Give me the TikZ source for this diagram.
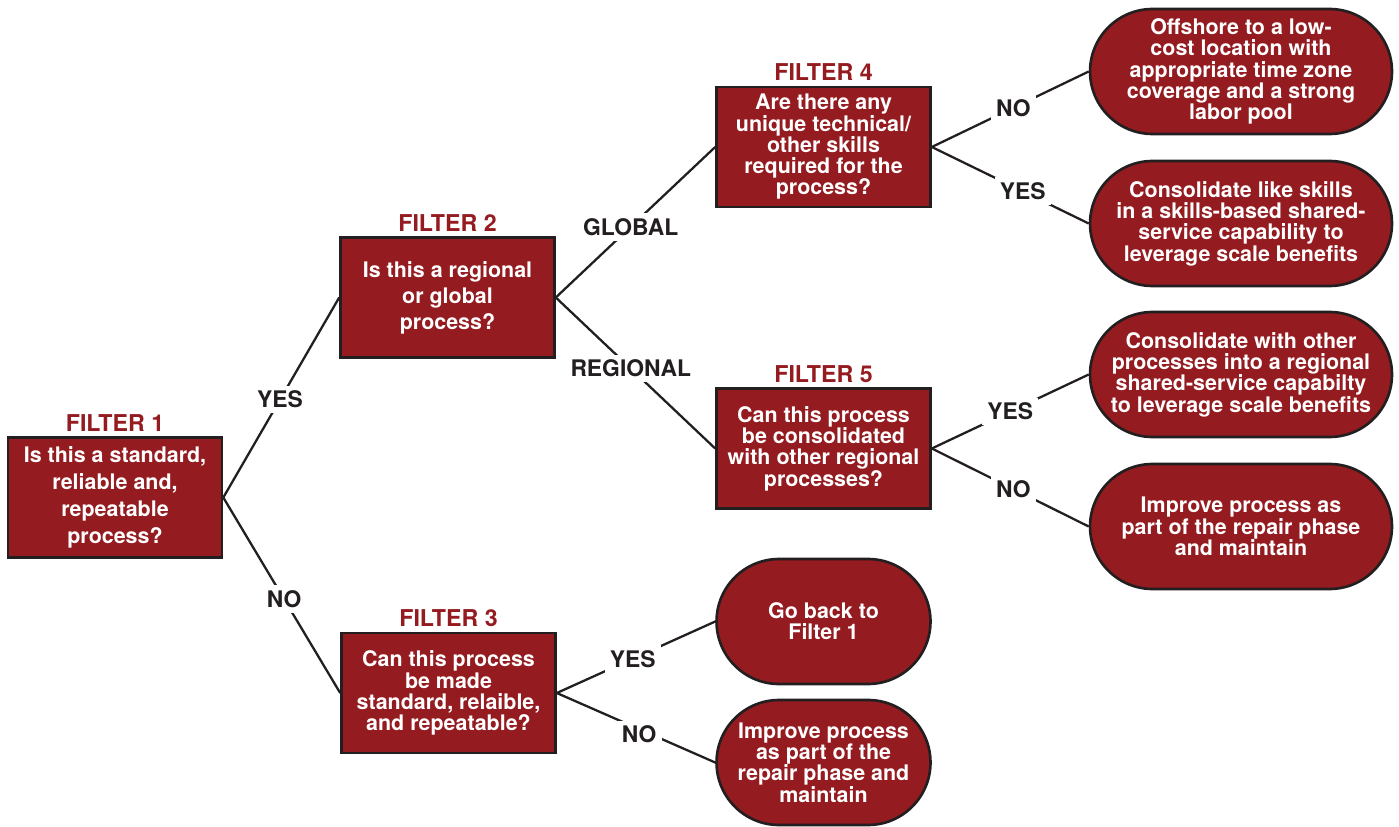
\documentclass[tikz,border=0pt]{standalone}
\usepackage{fontspec}
\setmainfont{TeX Gyre Heros}
\usetikzlibrary{positioning}
\definecolor{filterred}{RGB}{148,27,32}
\definecolor{inkgray}{RGB}{35,31,32}

\begin{document}
\begin{tikzpicture}[x=0.02cm,y=-0.02cm,
  box/.style={draw=inkgray,line width=1.5pt,fill=filterred,text=white,align=center,
    font=\fontsize{12.2}{12.1}\selectfont\bfseries,inner sep=0pt,minimum width=4.28cm,minimum height=2.4cm},
  endbox/.style={box,rounded corners=1.25cm,minimum width=6.04cm,minimum height=2.5cm},
  flabel/.style={text=filterred,font=\fontsize{13.2}{13}\selectfont\bfseries,inner sep=1pt},
  conn/.style={draw=inkgray,line width=1.3pt},
  ans/.style={fill=white,text=inkgray,font=\fontsize{13}{13}\selectfont\bfseries,inner sep=3pt}]
\useasboundingbox (0,0) rectangle (1399,827);
% filters
\node[box,font=\fontsize{12.2}{15.3}\selectfont\bfseries] (f1) at (115,497.5) {Is this a standard,\\ reliable and,\\ repeatable\\ process?};
\node[box,font=\fontsize{12.2}{14.8}\selectfont\bfseries] (f2) at (447.5,297.5) {Is this a regional\\ or global\\ process?};
\node[box] (f3) at (448.5,693) {Can this process\\ be made\\ standard, relaible,\\ and repeatable?};
\node[box] (f4) at (823.5,147) {Are there any\\ unique technical/\\ other skills\\ required for the\\ process?};
\node[box] (f5) at (823.5,448.5) {Can this process\\ be consolidated\\ with other regional\\ processes?};
\node[flabel,above=1.5pt of f1] {FILTER 1};
\node[flabel,above=1.5pt of f2] {FILTER 2};
\node[flabel,above=1.5pt of f3] {FILTER 3};
\node[flabel,above=1.5pt of f4] {FILTER 4};
\node[flabel,above=1.5pt of f5] {FILTER 5};
% outcomes
\node[endbox] (o1) at (1241,71.5) {Offshore to a low-\\ cost location with\\ appropriate time zone\\ coverage and a strong\\ labor pool};
\node[endbox] (o2) at (1241,223.5) {Consolidate like skills\\ in a skills-based shared-\\ service capability to\\ leverage scale benefits};
\node[endbox] (o3) at (1241,374.5) {Consolidate with other\\ processes into a regional\\ shared-service capabilty\\ to leverage scale benefits};
\node[endbox] (o4) at (1241,526.5) {Improve process as\\ part of the repair phase\\ and maintain};
\node[endbox,minimum width=4.28cm] (o5) at (823.5,621.5) {Go back to\\ Filter 1};
\node[endbox,minimum width=4.28cm] (o6) at (823.5,762.5) {Improve process\\ as part of the\\ repair phase and\\ maintain};
% connectors
\draw[conn] (f1.east) -- node[ans,pos=0.49] {YES} (f2.west);
\draw[conn] (f1.east) -- node[ans,pos=0.52] {NO} (f3.west);
\draw[conn] (f2.east) -- node[ans,pos=0.47] {GLOBAL} (f4.west);
\draw[conn] (f2.east) -- node[ans,pos=0.47] {REGIONAL} (f5.west);
\draw[conn] (f4.east) -- node[ans,pos=0.52] {NO} (o1.west);
\draw[conn] (f4.east) -- node[ans,pos=0.58] {YES} (o2.west);
\draw[conn] (f5.east) -- node[ans,pos=0.5] {YES} (o3.west);
\draw[conn] (f5.east) -- node[ans,pos=0.52] {NO} (o4.west);
\draw[conn] (f3.east) -- node[ans,pos=0.48] {YES} (o5.west);
\draw[conn] (f3.east) -- node[ans,pos=0.52,yshift=-3pt] {NO} (o6.west);
\end{tikzpicture}
\end{document}
